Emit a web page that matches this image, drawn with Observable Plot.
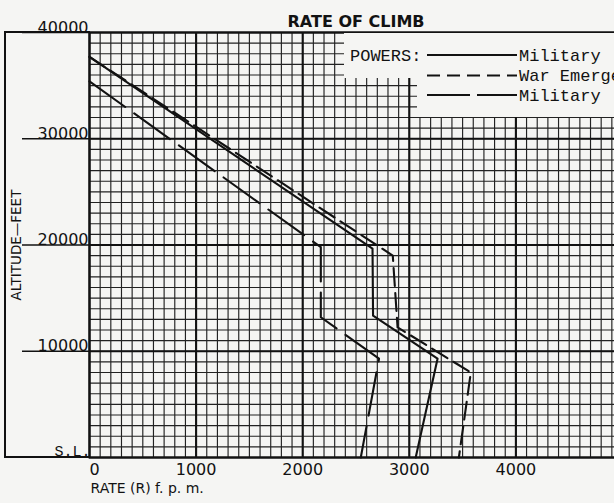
<!DOCTYPE html>
<html>
<head>
<meta charset="utf-8">
<script src="https://cdn.jsdelivr.net/npm/d3@7"></script>
<script src="https://cdn.jsdelivr.net/npm/@observablehq/plot@0.6"></script>
<style>
  html, body { margin: 0; padding: 0; background: #f5f5f3; overflow: hidden; width: 614px; height: 503px; }
  #wrap { position: relative; width: 614px; height: 503px; overflow: hidden; }
  #wrap svg { position: absolute; left: 0; top: 0; }
  #outer { position: absolute; left: 4px; top: 31px; width: 84px; height: 423px;
           border: 2px solid #111; border-right: none; pointer-events: none; }
</style>
</head>
<body>
<div id="wrap"><div id="outer"></div></div>
<script>
// ---- data ----
const rateTicks = [1000, 2000, 3000, 4000];
const rateZeroTick = [0];
const altTicks = [10000, 20000, 30000, 40000];

// Military (solid)
const militaryRate = [0, 2655, 2660, 3265, 3060];
const militaryAlt  = [37700, 19650, 13350, 9300, 0];
// War Emergency (short dashes)
const warEmergRate = [0, 2845, 2890, 3577, 3465];
const warEmergAlt  = [37700, 19000, 12250, 8000, 0];
// Military, second condition (long dashes)
const military2Rate = [0, 2170, 2170, 2716, 2545];
const military2Alt  = [35400, 19800, 13200, 9300, 0];

const legendTitle = "POWERS:";
const legendLabels = ["Military", "War Emergency", "Military"];

// ---- chart ----
const ink = "#121212";
const paper = "#f5f5f3";
const pts = (r, a) => r.map((v, i) => ({rate: v, alt: a[i]}));

const minorRate = d3.range(0, 5001, 100);
const minorAlt = d3.range(0, 40001, 1000);
const majorRate = d3.range(0, 5001, 1000);
const majorAlt = d3.range(0, 40001, 10000);

const chart = Plot.plot({
  width: 614,
  height: 503,
  marginLeft: 89,
  marginRight: -8,
  marginTop: 32,
  marginBottom: 46,
  style: {background: "transparent", fontFamily: "DejaVu Sans, sans-serif", color: ink},
  x: {domain: [0, 5000]},
  y: {domain: [0, 40000]},
  marks: [
    Plot.ruleX(minorRate, {stroke: "#222", strokeWidth: 1.15}),
    Plot.ruleY(minorAlt, {stroke: "#222", strokeWidth: 1.15}),
    Plot.ruleX(majorRate, {stroke: ink, strokeWidth: 2.1}),
    Plot.ruleY(majorAlt, {stroke: ink, strokeWidth: 2.1}),
    Plot.frame({stroke: ink, strokeWidth: 2}),
    Plot.axisX(rateTicks, {tickSize: 0, tickPadding: 6, fontSize: 16, label: null, tickFormat: d => String(d)}),
    Plot.axisX(rateZeroTick, {tickSize: 0, tickPadding: 6, dx: 5, fontSize: 16, label: null, tickFormat: d => String(d)}),
    // tick lines reaching into the left margin
    Plot.axisY(altTicks, {tickSize: 67, strokeWidth: 1.6, label: null, tickFormat: () => ""}),
    // tick labels sitting on those lines
    Plot.axisY(altTicks, {tickSize: 0, tickPadding: 1, dy: -5, fontSize: 16, label: null, tickFormat: d => String(d)}),
    Plot.text([0], {y: d => d, text: () => "S.L.", frameAnchor: "left", textAnchor: "end",
                    dx: 1, dy: -6, fontSize: 15, fontFamily: "Liberation Mono, monospace"}),
    Plot.text(["RATE OF CLIMB"], {frameAnchor: "top", dy: -17, fontSize: 16, fontWeight: "bold"}),
    Plot.text(["ALTITUDE—FEET"], {frameAnchor: "left", textAnchor: "middle", rotate: -90, dx: -73, fontSize: 13.5}),
    Plot.text(["RATE (R) f. p. m."], {frameAnchor: "bottom-left", textAnchor: "start", dx: 1, dy: 35, fontSize: 14}),
    Plot.line(pts(military2Rate, military2Alt), {x: "rate", y: "alt", stroke: ink, strokeWidth: 2.1, strokeDasharray: "44,11"}),
    Plot.line(pts(militaryRate, militaryAlt), {x: "rate", y: "alt", stroke: ink, strokeWidth: 2.1}),
    Plot.line(pts(warEmergRate, warEmergAlt), {x: "rate", y: "alt", stroke: ink, strokeWidth: 2.1, strokeDasharray: "18,7"})
  ]
});
const wrap = document.getElementById("wrap");
wrap.insertBefore(chart, wrap.firstChild);

// ---- legend (overlaid on the grid, as in the reference) ----
const lg = d3.select(wrap).append("svg")
  .attr("width", 614).attr("height", 503)
  .style("pointer-events", "none");
lg.append("rect").attr("x", 344).attr("y", 33).attr("width", 280).attr("height", 45).attr("fill", paper);
lg.append("rect").attr("x", 417).attr("y", 33).attr("width", 210).attr("height", 84).attr("fill", paper);
const mono = "Liberation Mono, DejaVu Sans Mono, monospace";
lg.append("text").attr("x", 350).attr("y", 55).attr("dy", "0.35em")
  .attr("font-family", mono).attr("font-size", 17).attr("fill", ink).text(legendTitle);
const dashes = [null, "13,7", "43,7"];
const rowY = [55, 75.5, 95];
legendLabels.forEach((lab, i) => {
  lg.append("line").attr("x1", 427).attr("x2", 517).attr("y1", rowY[i]).attr("y2", rowY[i])
    .attr("stroke", ink).attr("stroke-width", 1.8).attr("stroke-dasharray", dashes[i]);
  lg.append("text").attr("x", 519).attr("y", rowY[i]).attr("dy", "0.35em")
    .attr("font-family", mono).attr("font-size", 17).attr("fill", ink).text(lab);
});
</script>
</body>
</html>
